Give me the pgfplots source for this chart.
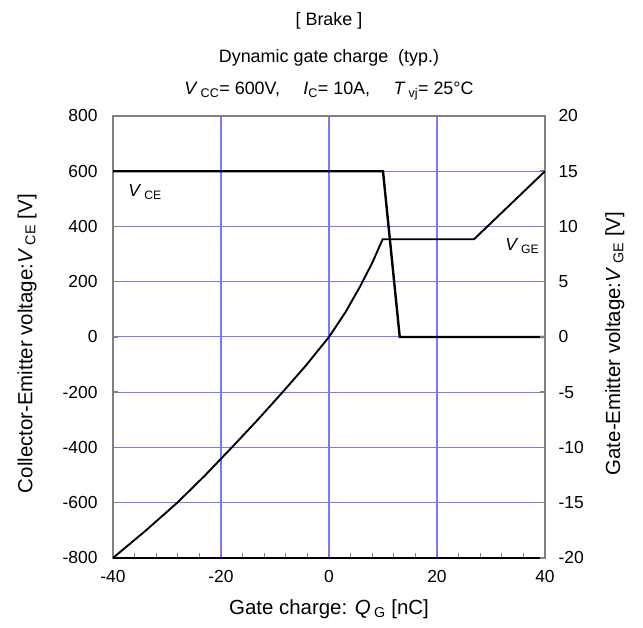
\documentclass[border=0pt]{standalone}
\usepackage{fontspec}
\setmainfont{Liberation Sans}
\usepackage{pgfplots}
\pgfplotsset{compat=1.18}
\definecolor{gridblue}{RGB}{120,120,255}
\definecolor{axgray}{RGB}{128,128,128}
\newcommand{\sub}[1]{\textsubscript{#1}}
\newcommand{\tickfont}{\fontsize{17.5}{20}\selectfont}
\newcommand{\labfont}{\fontsize{20.5}{24}\selectfont}

\begin{document}
\begin{tikzpicture}
% left axis: V_CE
\begin{axis}[
    scale only axis, width=432bp, height=442bp,
    clip=false,
    xmin=-40, xmax=40, ymin=-800, ymax=800,
    xtick={-40,-20,0,20,40}, xticklabels={-40,-20,0,20,40},
    ytick={-800,-600,-400,-200,0,200,400,600,800},
    yticklabels={-800,-600,-400,-200,0,200,400,600,800},
    minor x tick num=4,
    xtick pos=bottom, ytick pos=left, tick align=inside,
    major tick length=5bp, minor tick length=5bp,
    x tick style={line width=1bp},
    y tick style={axgray, line width=1.5bp},
    grid=major, grid style={gridblue, line width=1.05bp},
    axis line style={axgray, line width=1.5bp},
    ticklabel style={font=\tickfont},
    yticklabel style={xshift=-12bp},
    xticklabel style={yshift=-9bp},
    xlabel={Gate charge: \textit{Q}\,\sub{G} [nC]},
    xlabel style={at={(axis description cs:0.5,-0.116)}, anchor=center, font=\labfont},
    ylabel={Collector-Emitter voltage:\textit{V}\,\sub{CE} [V]},
    ylabel style={at={(axis description cs:-0.199,0.485)}, anchor=center, font=\labfont},
]
\path (axis description cs:-0.2616,-0.1584) rectangle (axis description cs:1.2269,1.2624);

\addplot[black, line width=2.4bp] coordinates {
    (-40,600) (10,600) (13.1,0) (40,0)
};

\draw[black, line width=1.5bp] (rel axis cs:0,0) -- (rel axis cs:1,0);

\node[anchor=west, font=\tickfont] at (axis cs:-37.8,525) {\textit{V}\,\sub{CE}};
\node[anchor=west, font=\tickfont] at (axis cs:32,330) {\textit{V}\,\sub{GE}};

\node[font=\fontsize{18}{22}\selectfont] at (axis description cs:0.5,1.215) {[ Brake ]};
\node[font=\fontsize{18}{22}\selectfont] at (axis description cs:0.5,1.131) {Dynamic gate charge~~(typ.)};
\node[font=\fontsize{18}{22}\selectfont] at (axis description cs:0.5,1.056)
    {\textit{V}\,\sub{CC}= 600V,\hspace{1.3em}\textit{I}\sub{C}= 10A,\hspace{1.3em}\textit{T}\,\sub{vj}= 25°C};

\node[rotate=90, font=\labfont] at (axis description cs:1.162,0.485)
    {Gate-Emitter voltage:\textit{V}\,\sub{GE} [V]};
\end{axis}

% right axis: V_GE
\begin{axis}[
    scale only axis, width=432bp, height=442bp,
    xmin=-40, xmax=40, ymin=-20, ymax=20,
    axis x line=none, axis y line*=right,
    ytick={-20,-15,-10,-5,0,5,10,15,20},
    yticklabels={-20,-15,-10,-5,0,5,10,15,20},
    tick align=inside, major tick length=5bp,
    y tick style={axgray, line width=1.5bp},
    axis line style={axgray, line width=1.5bp},
    ticklabel style={font=\tickfont},
    yticklabel style={xshift=10bp},
]
\addplot[black, line width=1.9bp] coordinates {
    (-40,-20) (-34,-17.55) (-28.1,-15) (-23,-12.55) (-18,-10)
    (-13.3,-7.55) (-8.6,-5) (-4.3,-2.6) (0,0) (3,2.2)
    (5.74,4.55) (8,6.7) (9.94,8.84) (26.85,8.84) (40,15)
};
\end{axis}
\end{tikzpicture}
\end{document}
